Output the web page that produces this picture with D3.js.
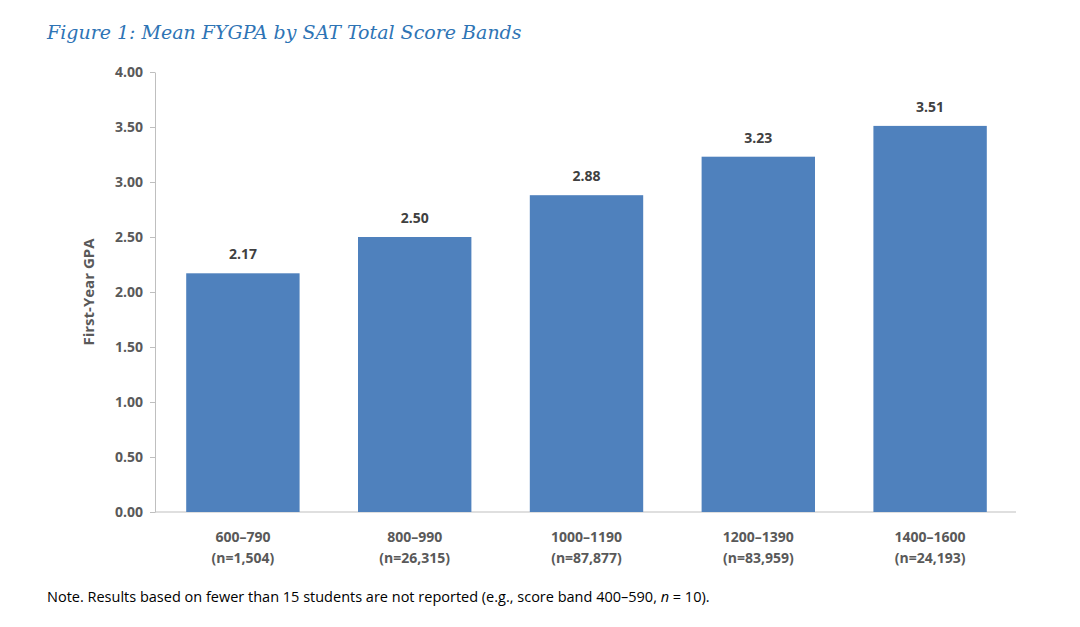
<!DOCTYPE html><html><head><meta charset="utf-8">
<script src="https://cdn.jsdelivr.net/npm/d3@7"></script>
<style>body{margin:0;background:#fff}</style></head><body>
<svg id="c" width="1080" height="627"></svg>
<script>
const categories=["600–790","800–990","1000–1190","1200–1390","1400–1600"];
const counts=["(n=1,504)","(n=26,315)","(n=87,877)","(n=83,959)","(n=24,193)"];
const values=[2.17,2.50,2.88,3.23,3.51];
const yTicks=[0,0.5,1,1.5,2,2.5,3,3.5,4];
const svg=d3.select("#c");
const font="'Open Sans', 'Liberation Sans', sans-serif";
const x=d3.scaleBand().domain(categories).range([157,1016]).paddingInner(0.34).paddingOuter(0.17);
const y=d3.scaleLinear().domain([0,4]).range([512,72]);
svg.append("text").attr("x",47).attr("y",39).attr("fill","#2E74B5").attr("font-family","'DejaVu Serif', serif").attr("font-style","italic").attr("font-size",19).text("Figure 1: Mean FYGPA by SAT Total Score Bands");
const ya=svg.append("g").attr("transform","translate(155,0)").call(d3.axisLeft(y).tickValues(yTicks).tickFormat(d3.format(".2f")).tickSize(5).tickSizeOuter(0));
ya.selectAll("text").attr("font-family",font).attr("font-size",14).attr("font-weight","bold").attr("fill","#595959").attr("dx",-4);
ya.selectAll("line,path").attr("stroke","#BFBFBF");
svg.append("line").attr("x1",155).attr("x2",1016).attr("y1",y(0)).attr("y2",y(0)).attr("stroke","#BFBFBF");
svg.selectAll("rect.b").data(values).join("rect").attr("class","b").attr("x",(d,i)=>x(categories[i])).attr("width",x.bandwidth()).attr("y",d=>y(d)).attr("height",d=>y(0)-y(d)).attr("fill","#4F81BD");
svg.selectAll("text.v").data(values).join("text").attr("class","v").attr("x",(d,i)=>x(categories[i])+x.bandwidth()/2).attr("y",d=>y(d)-14).attr("text-anchor","middle").attr("font-family",font).attr("font-size",14).attr("font-weight","bold").attr("fill","#404040").text(d=>d.toFixed(2));
svg.selectAll("text.c").data(categories).join("text").attr("class","c").attr("x",d=>x(d)+x.bandwidth()/2).attr("y",542).attr("text-anchor","middle").attr("font-family",font).attr("font-size",14).attr("font-weight","bold").attr("fill","#595959").text(d=>d);
svg.selectAll("text.n").data(counts).join("text").attr("class","n").attr("x",(d,i)=>x(categories[i])+x.bandwidth()/2).attr("y",563).attr("text-anchor","middle").attr("font-family",font).attr("font-size",14).attr("font-weight","bold").attr("fill","#595959").text(d=>d);
svg.append("text").attr("transform","translate(94,292) rotate(-90)").attr("text-anchor","middle").attr("font-family",font).attr("font-size",15).attr("font-weight","bold").attr("fill","#595959").text("First-Year GPA");
const note=svg.append("text").attr("x",47).attr("y",602).attr("font-family",font).attr("font-size",14.5).attr("fill","#000");
note.append("tspan").text("Note. Results based on fewer than 15 students are not reported (e.g., score band 400–590, ");
note.append("tspan").attr("font-style","italic").text("n");
note.append("tspan").text(" = 10).");
</script></body></html>
